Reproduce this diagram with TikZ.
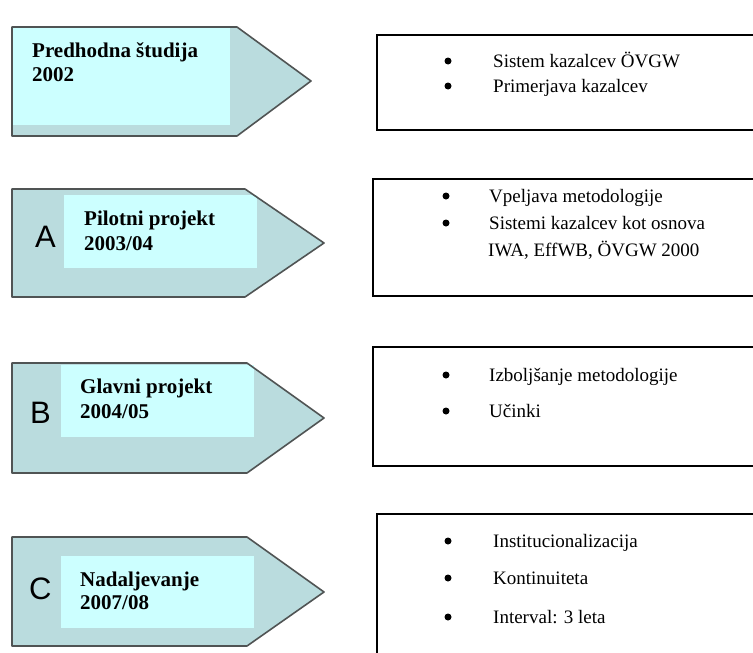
\documentclass[tikz,border=0pt]{standalone}
\usepackage{fontspec}
\setmainfont{Liberation Serif}
\newfontfamily\arialf{Liberation Sans}
\definecolor{arrowfill}{RGB}{186,220,222}
\definecolor{innerfill}{RGB}{204,255,255}
\definecolor{arrowline}{RGB}{80,84,84}
\tikzset{
  arrowshape/.style={fill=arrowfill},
  arrowborder/.style={draw=arrowline, line width=1.6pt, line join=round},
  innerrect/.style={fill=innerfill},
  infobox/.style={draw=black, line width=1.8pt},
  title/.style={anchor=base west, inner sep=0pt, font=\fontsize{21}{24}\selectfont\bfseries},
  letter/.style={anchor=base west, inner sep=0pt, font=\arialf\fontsize{31}{34}\selectfont},
  item/.style={anchor=base west, inner sep=0pt, font=\fontsize{19}{22}\selectfont},
  bulletdot/.style={fill=black, circle, inner sep=0pt, minimum size=7pt}
}
\begin{document}
\begin{tikzpicture}[x=1pt,y=-1pt]
\useasboundingbox (0,0) rectangle (753,653);
\fill[white] (0,0) rectangle (753,653);

% ---------- Arrow 1 ----------
\fill[arrowshape] (12,27) -- (237,27) -- (311,81) -- (237,136) -- (12,136) -- cycle;
\fill[innerrect] (12,27) rectangle (230,125);
\draw[arrowborder] (12,27) -- (237,27) -- (311,81) -- (237,136) -- (12,136) -- cycle;
\node[title] (t1a) at (32,57) {Predhodna študija};
\node[title] (t1b) at (32,81) {2002};

% ---------- Arrow 2 ----------
\fill[arrowshape] (12,189) -- (245,189) -- (324,243) -- (245,297) -- (12,297) -- cycle;
\fill[innerrect] (64,195) rectangle (257,268);
\draw[arrowborder] (12,189) -- (245,189) -- (324,243) -- (245,297) -- (12,297) -- cycle;
\node[letter] (la) at (35,247) {A};
\node[title] (t2a) at (84,225) {Pilotni projekt};
\node[title] (t2b) at (84,250) {2003/04};

% ---------- Arrow 3 ----------
\fill[arrowshape] (12,363) -- (247,363) -- (324,418) -- (247,473) -- (12,473) -- cycle;
\fill[innerrect] (61,365) rectangle (254,437);
\draw[arrowborder] (12,363) -- (247,363) -- (324,418) -- (247,473) -- (12,473) -- cycle;
\node[letter] (lb) at (30,423) {B};
\node[title] (t3a) at (80,393) {Glavni projekt};
\node[title] (t3b) at (80,418) {2004/05};

% ---------- Arrow 4 ----------
\fill[arrowshape] (12,537) -- (247,537) -- (324,592) -- (247,646) -- (12,646) -- cycle;
\fill[innerrect] (61,556) rectangle (254,628);
\draw[arrowborder] (12,537) -- (247,537) -- (324,592) -- (247,646) -- (12,646) -- cycle;
\node[letter] (lc) at (29,599) {C};
\node[title] (t4a) at (80,586) {Nadaljevanje};
\node[title] (t4b) at (80,609) {2007/08};

% ---------- Box 1 ----------
\draw[infobox] (377,35) rectangle (770,130);
\node[bulletdot] (b1a) at (448,61) {};
\node[item] (i1a) at (493,67) {Sistem kazalcev ÖVGW};
\node[bulletdot] (b1b) at (448,86) {};
\node[item] (i1b) at (493,92) {Primerjava kazalcev};

% ---------- Box 2 ----------
\draw[infobox] (373,179) rectangle (770,296);
\node[bulletdot] (b2a) at (446,196) {};
\node[item] (i2a) at (489,202) {Vpeljava metodologije};
\node[bulletdot] (b2b) at (446,223) {};
\node[item] (i2b) at (489,229) {Sistemi kazalcev kot osnova};
\node[item] (i2c) at (488,256) {IWA, EffWB, ÖVGW 2000};

% ---------- Box 3 ----------
\draw[infobox] (373,347) rectangle (770,466);
\node[bulletdot] (b3a) at (446,375) {};
\node[item] (i3a) at (489,381) {Izboljšanje metodologije};
\node[bulletdot] (b3b) at (446,411) {};
\node[item] (i3b) at (489,417) {Učinki};

% ---------- Box 4 ----------
\draw[infobox] (377,514) rectangle (770,670);
\node[bulletdot] (b4a) at (448,541) {};
\node[item] (i4a) at (493,547) {Institucionalizacija};
\node[bulletdot] (b4b) at (448,578) {};
\node[item] (i4b) at (493,584) {Kontinuiteta};
\node[bulletdot] (b4c) at (448,617) {};
\node[item] (i4c) at (493,623) {Interval: 3 leta};
\end{tikzpicture}
\end{document}
